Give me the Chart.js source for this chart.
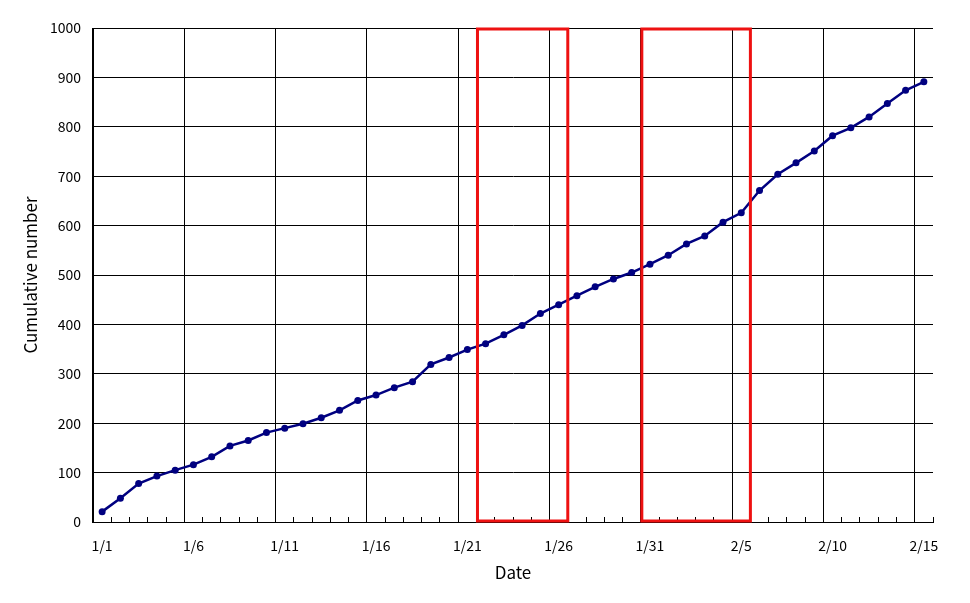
<!DOCTYPE html>
<html>
<head>
<meta charset="utf-8">
<script src="https://cdn.jsdelivr.net/npm/chart.js@4"></script>
<style>
  html, body { margin: 0; padding: 0; background: #fff; }
  #wrap { width: 970px; height: 603px; position: relative; }
</style>
</head>
<body>
<div id="wrap"><canvas id="cumChart"></canvas></div>
<script>
/* --------------- Data --------------------- */
const dates = [
  '1/1', '1/2', '1/3', '1/4', '1/5', '1/6', '1/7', '1/8', '1/9', '1/10',
  '1/11', '1/12', '1/13', '1/14', '1/15', '1/16', '1/17', '1/18', '1/19', '1/20',
  '1/21', '1/22', '1/23', '1/24', '1/25', '1/26', '1/27', '1/28', '1/29', '1/30',
  '1/31', '2/1', '2/2', '2/3', '2/4', '2/5', '2/6', '2/7', '2/8', '2/9',
  '2/10', '2/11', '2/12', '2/13', '2/14', '2/15'
];
const cumulative = [
  21, 48, 78, 93, 105, 116, 132, 154, 165, 181,
  190, 199, 211, 226, 246, 257, 272, 284, 319, 333,
  349, 361, 379, 398, 422, 440, 458, 476, 492, 505,
  522, 540, 563, 579, 607, 626, 671, 704, 727, 751,
  782, 798, 820, 847, 874, 891
];
const yTicks = [0, 100, 200, 300, 400, 500, 600, 700, 800, 900, 1000];

// red boxes: first and last day inside each box
const boxStart = ['1/22', '1/31'];
const boxEnd = ['1/26', '2/5'];

const FONT = "'Noto Sans CJK JP', 'Noto Sans', sans-serif";

/* --------------- Red boxes plugin --------------------- */
const boxPlugin = {
  id: 'redBoxes',
  afterDatasetsDraw(chart) {
    const ctx = chart.ctx;
    const xs = chart.scales.x;
    const area = chart.chartArea;
    const half = (xs.getPixelForValue(1) - xs.getPixelForValue(0)) / 2;
    ctx.save();
    ctx.strokeStyle = '#ee1111';
    ctx.lineWidth = 3;
    for (let i = 0; i < boxStart.length; i++) {
      const x0 = xs.getPixelForValue(dates.indexOf(boxStart[i])) - half;
      const x1 = xs.getPixelForValue(dates.indexOf(boxEnd[i])) + half;
      ctx.strokeRect(x0 + 1, area.top + 1, x1 - x0 - 1, area.bottom - area.top - 2);
    }
    ctx.restore();
  }
};

/* --------------- Chart --------------------- */
let cumChart = new Chart(document.getElementById('cumChart'), {
  type: 'line',
  plugins: [boxPlugin],
  data: {
    labels: dates,
    datasets: [{
      data: cumulative,
      borderColor: '#000080',
      backgroundColor: '#000080',
      borderWidth: 2.5,
      pointRadius: 3.5,
      pointBorderWidth: 0,
      pointBackgroundColor: '#000080',
      tension: 0,
    }],
  },
  options: {
    responsive: true,
    maintainAspectRatio: false,
    animation: false,
    layout: { padding: { top: 28, right: 37, left: 0, bottom: 0 } },
    plugins: {
      legend: { display: false },
      tooltip: { enabled: false },
    },
    scales: {
      x: {
        type: 'category',
        offset: true,
        grid: {
          offset: true,
          color: (c) => (c.index % 5 === 0 || c.index >= dates.length) ? '#000' : 'rgba(0,0,0,0)',
          lineWidth: 1,
          drawTicks: true,
          tickLength: -5,
          tickColor: '#000',
          tickWidth: 1,
        },
        border: { display: true, color: '#000', width: 1 },
        ticks: {
          autoSkip: false,
          maxRotation: 0,
          color: '#000',
          font: { family: FONT, size: 14 },
          padding: 20,
          callback: (v, i) => (i % 5 === 0 ? dates[i] : ''),
        },
        title: {
          display: true,
          text: 'Date',
          color: '#000',
          font: { family: FONT, size: 17 },
          padding: { top: 0, bottom: 20 },
        },
        afterFit: (s) => { s.height = 81; },
      },
      y: {
        min: 0,
        max: 1000,
        afterBuildTicks: (s) => { s.ticks = yTicks.map(v => ({ value: v })); },
        grid: { color: '#000', lineWidth: 1, drawTicks: false },
        border: { display: true, color: '#000', width: 1 },
        ticks: {
          color: '#000',
          font: { family: FONT, size: 14 },
          padding: 12,
          callback: (v) => String(v),
        },
        title: {
          display: true,
          text: 'Cumulative number',
          color: '#000',
          font: { family: FONT, size: 17 },
          padding: { top: 20, bottom: 0 },
        },
        afterFit: (s) => { s.width = 93; },
      },
    },
  },
});
</script>
</body>
</html>
